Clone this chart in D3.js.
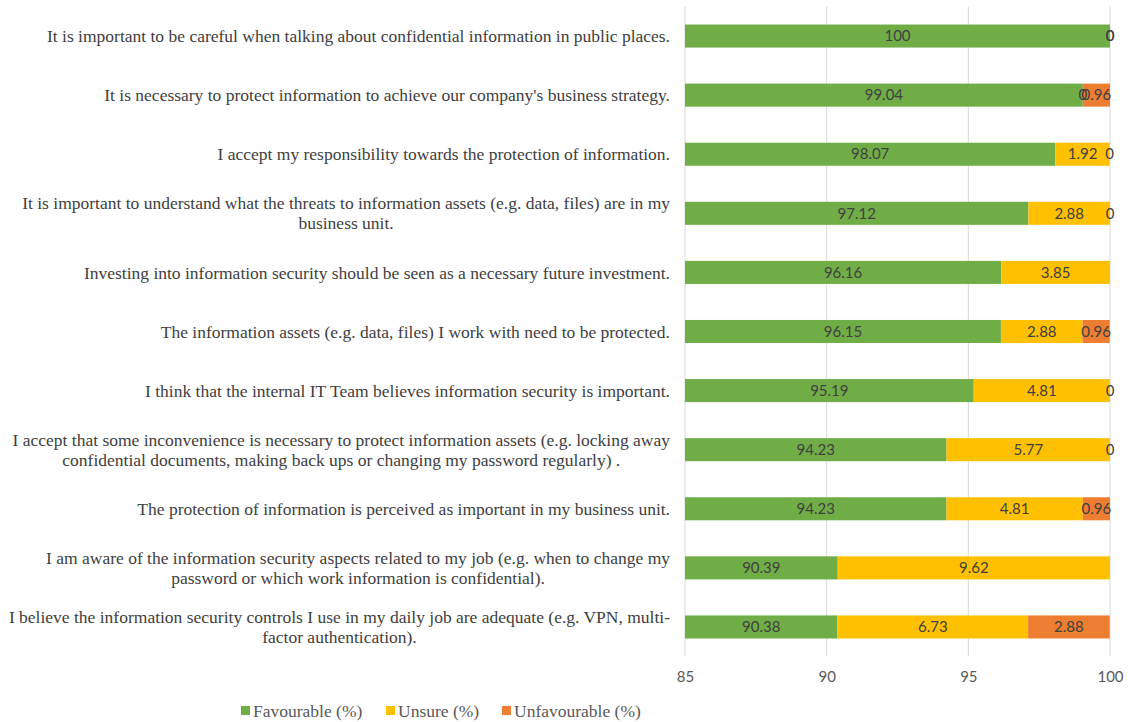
<!DOCTYPE html>
<html>
<head>
<meta charset="utf-8">
<script src="https://cdn.jsdelivr.net/npm/d3@7"></script>
<style>
  html, body { margin: 0; padding: 0; background: #ffffff; }
  svg { display: block; }
</style>
</head>
<body>
<svg id="chart" width="1128" height="722"></svg>
<script>
// Survey statements (each entry is an array of display lines)
const categories = [
  ["It is important to be careful when talking about confidential information in public places."],
  ["It is necessary to protect information to achieve our company's business strategy."],
  ["I accept my responsibility towards the protection of information."],
  ["It is important to understand what the threats to information assets (e.g. data, files) are in my", "business unit."],
  ["Investing into information security should be seen as a necessary future investment."],
  ["The information assets (e.g. data, files) I work with need to be protected."],
  ["I think that the internal IT Team believes information security is important."],
  ["I accept that some inconvenience is necessary to protect information assets (e.g. locking away", "confidential documents, making back ups or changing my password regularly) ."],
  ["The protection of information is perceived as important in my business unit."],
  ["I am aware of the information security aspects related to my job (e.g. when to change my", "password or which work information is confidential)."],
  ["I believe the information security controls I use in my daily job are adequate (e.g. VPN, multi-", "factor authentication)."]
];

const favourable   = [100, 99.04, 98.07, 97.12, 96.16, 96.15, 95.19, 94.23, 94.23, 90.39, 90.38];
const unsure       = [0, 0, 1.92, 2.88, 3.85, 2.88, 4.81, 5.77, 4.81, 9.62, 6.73];
const unfavourable = [0, 0.96, 0, 0, null, 0.96, 0, 0, 0.96, null, 2.88];

const seriesNames = ["Favourable (%)", "Unsure (%)", "Unfavourable (%)"];
const seriesColors = ["#70AD47", "#FFC000", "#ED7D31"];
const xTicks = [85, 90, 95, 100];

const svg = d3.select("#chart");
const serif = "'Liberation Serif', 'Times New Roman', serif";
const sans = "Lato, Carlito, Calibri, sans-serif";

const plot = { left: 685, right: 1110, top: 6.5, bottom: 656.5 };

const x = d3.scaleLinear().domain([85, 100]).range([plot.left, plot.right]);
const y = d3.scaleBand()
  .domain(d3.range(categories.length))
  .range([plot.top, plot.bottom])
  .paddingInner(0.61)
  .paddingOuter(0.305);

// Vertical gridlines
svg.append("g")
  .selectAll("line")
  .data(xTicks)
  .join("line")
  .attr("x1", d => x(d)).attr("x2", d => x(d))
  .attr("y1", plot.top).attr("y2", plot.bottom)
  .attr("stroke", "#d9d9d9")
  .attr("stroke-width", 1);

// X axis tick labels
const xAxis = d3.axisBottom(x).tickValues(xTicks).tickSize(0).tickPadding(12);
const xg = svg.append("g")
  .attr("transform", `translate(0,${plot.bottom + 3})`)
  .call(xAxis);
xg.select(".domain").remove();
xg.selectAll("text")
  .attr("font-family", sans)
  .attr("font-size", 15)
  .attr("fill", "#595959");

// Build stacked segments
const rows = categories.map((c, i) => {
  const vals = [favourable[i], unsure[i], unfavourable[i]];
  let start = 85;
  return vals.map((v, k) => {
    const seg = { row: i, series: k, value: v, x0: start, x1: start + (v || 0) };
    if (k === 0) { seg.x0 = 85; seg.x1 = v; }
    start = seg.x1;
    return seg;
  });
});
const segments = rows.flat();

svg.append("g")
  .selectAll("rect")
  .data(segments.filter(s => s.value))
  .join("rect")
  .attr("x", d => x(d.x0))
  .attr("width", d => Math.max(0, x(Math.min(d.x1, 100)) - x(d.x0)))
  .attr("y", d => y(d.row))
  .attr("height", y.bandwidth())
  .attr("fill", d => seriesColors[d.series]);

// Data labels centred on each segment
svg.append("g")
  .selectAll("text")
  .data(segments.filter(s => s.value !== null))
  .join("text")
  .attr("x", d => x((d.x0 + Math.min(d.x1, 100)) / 2))
  .attr("y", d => y(d.row) + y.bandwidth() / 2)
  .attr("dy", "0.35em")
  .attr("text-anchor", "middle")
  .attr("font-family", sans)
  .attr("font-size", 15)
  .attr("fill", "#404040")
  .text(d => String(d.value));

// Category labels: block right-aligned, lines centred within the block
const labelRight = 670;
const lineH = 20;
const catG = svg.append("g");
categories.forEach((lines, i) => {
  const g = catG.append("g");
  const texts = lines.map(l => g.append("text")
    .attr("font-family", serif)
    .attr("font-size", 17.5)
    .attr("fill", "#404040")
    .attr("text-anchor", "middle")
    .text(l));
  const widths = texts.map(t => t.node().getComputedTextLength());
  const w = d3.max(widths);
  const cx = labelRight - w / 2;
  const cy = y(i) + y.bandwidth() / 2;
  const n = lines.length;
  texts.forEach((t, j) => {
    t.attr("x", cx)
     .attr("y", cy + (j - (n - 1) / 2) * lineH)
     .attr("dy", "0.35em");
  });
});

// Legend
const legendItems = [
  { name: seriesNames[0], color: seriesColors[0], x: 241 },
  { name: seriesNames[1], color: seriesColors[1], x: 386 },
  { name: seriesNames[2], color: seriesColors[2], x: 502 }
];
const lg = svg.append("g").attr("transform", "translate(0,711)");
legendItems.forEach(it => {
  lg.append("rect")
    .attr("x", it.x).attr("y", -5)
    .attr("width", 9).attr("height", 9)
    .attr("fill", it.color);
  lg.append("text")
    .attr("x", it.x + 12).attr("y", 0)
    .attr("dy", "0.35em")
    .attr("font-family", serif)
    .attr("font-size", 17.5)
    .attr("fill", "#595959")
    .text(it.name);
});
</script>
</body>
</html>
